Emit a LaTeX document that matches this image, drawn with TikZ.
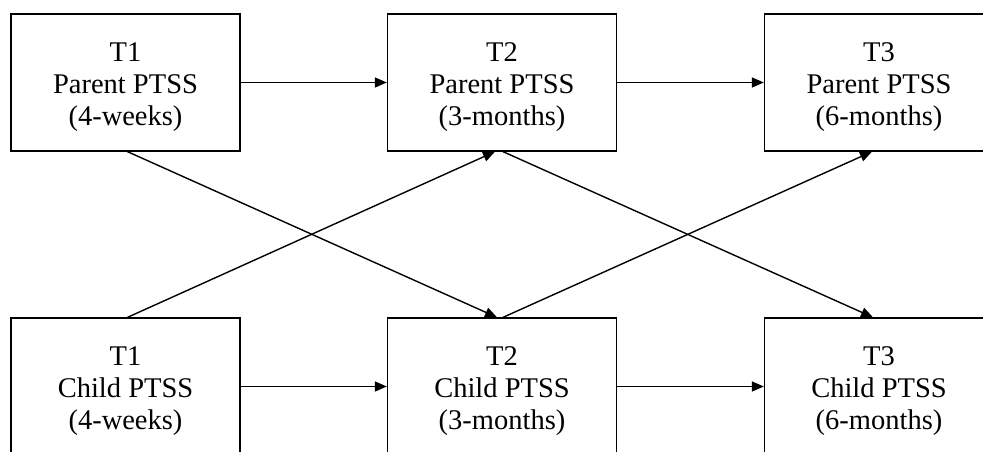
\documentclass[tikz,border=0pt]{standalone}
\usepackage{fontspec}
\setmainfont{Liberation Serif}
\usetikzlibrary{arrows.meta}

% three centred lines, rows 32pt apart, set a little below the box centre
\newcommand{\boxlines}[3]{\raisebox{-5pt}[\height][\depth]{\begin{tabular}{@{}c@{}}#1\\#2\\#3\end{tabular}}}

\begin{document}
\begin{tikzpicture}[x=1pt,y=1pt,
  measure/.style={draw=black, line width=1.3pt, fill=white,
    minimum width=229pt, minimum height=137pt, inner sep=0pt,
    font=\fontsize{28.5}{32}\selectfont},
  path/.style={line width=1.4pt, -{Triangle[length=12pt,width=10pt]}}
]
\useasboundingbox (0,0) rectangle (983,451);
\clip (0,0) rectangle (983,451);

% parent PTSS (top row)
\node[measure] (p1) at (125.5,368.5) {\boxlines{T1}{Parent PTSS}{(4-weeks)}};
\node[measure] (p2) at (502,368.5) {\boxlines{T2}{Parent PTSS}{(3-months)}};
\node[measure] (p3) at (879,368.5) {\boxlines{T3}{Parent PTSS}{(6-months)}};

% child PTSS (bottom row)
\node[measure] (c1) at (125.5,64.5) {\boxlines{T1}{Child PTSS}{(4-weeks)}};
\node[measure] (c2) at (502,64.5) {\boxlines{T2}{Child PTSS}{(3-months)}};
\node[measure] (c3) at (879,64.5) {\boxlines{T3}{Child PTSS}{(6-months)}};

% stability paths
\draw[path] (p1.east) -- (p2.west);
\draw[path] (p2.east) -- (p3.west);
\draw[path] (c1.east) -- (c2.west);
\draw[path] (c2.east) -- (c3.west);

% cross-lagged paths
\draw[path] ([xshift=2pt]p1.south) -- ([xshift=-5pt]c2.north);
\draw[path] ([xshift=2pt]c1.north) -- ([xshift=-7pt]p2.south);
\draw[path] ([xshift=1pt]p2.south) -- ([xshift=-6pt]c3.north);
\draw[path] ([xshift=1pt]c2.north) -- ([xshift=-7pt]p3.south);
\end{tikzpicture}
\end{document}
